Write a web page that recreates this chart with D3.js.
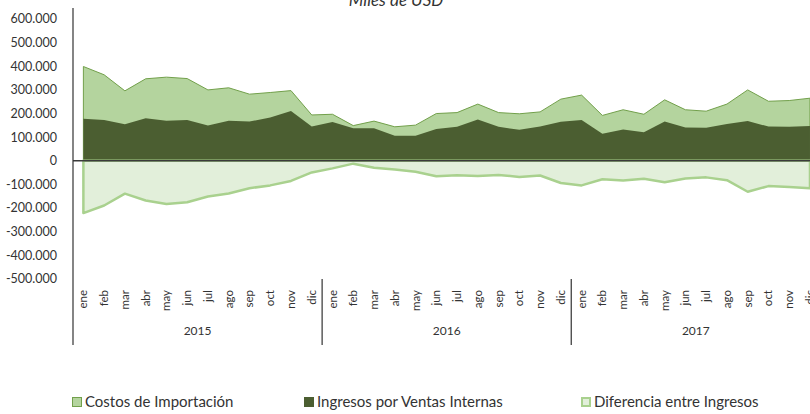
<!DOCTYPE html>
<html>
<head>
<meta charset="utf-8">
<script src="https://cdn.jsdelivr.net/npm/d3@7"></script>
<style>
  body { margin: 0; background: #fff; }
  text { font-family: Lato, "Liberation Sans", sans-serif; fill: #333; }
</style>
</head>
<body>
<svg id="chart" width="810" height="414"></svg>
<script>
// data (miles de USD)
const years = ["2015", "2016", "2017"];
const months = ["ene", "feb", "mar", "abr", "may", "jun", "jul", "ago", "sep", "oct", "nov", "dic"];
const costos = [
    399000, 364000, 296000, 347000, 354000, 348000, 300000, 309000, 282000, 289000, 297000, 194000,
    197000, 149000, 168000, 144000, 151000, 200000, 204000, 240000, 204000, 199000, 207000, 261000,
    278000, 192000, 216000, 197000, 258000, 216000, 210000, 240000, 300000, 252000, 255000, 265000
];
const ingresos = [
    178000, 173000, 155000, 180000, 170000, 173000, 149000, 170000, 166000, 183000, 211000, 145000,
    164000, 138000, 138000, 106000, 106000, 135000, 144000, 175000, 144000, 131000, 145000, 165000,
    173000, 114000, 132000, 121000, 166000, 141000, 140000, 156000, 168000, 145000, 144000, 147000
];
const diferencia = [
    -221000, -189000, -139000, -168000, -183000, -175000, -151000, -138000, -116000, -104000, -85000, -49000,
    -32000, -12000, -29000, -37000, -46000, -65000, -61000, -64000, -60000, -68000, -62000, -94000,
    -104000, -78000, -83000, -76000, -91000, -75000, -70000, -82000, -131000, -107000, -111000, -116000
];
const yTicks = [600000, 500000, 400000, 300000, 200000, 100000, 0, -100000, -200000, -300000, -400000, -500000];
const seriesNames = ["Costos de Importación", "Ingresos por Ventas Internas", "Diferencia entre Ingresos"];

const locale = d3.formatLocale({ decimal: ",", thousands: ".", grouping: [3], currency: ["", ""], minus: "-" });
const fmt = locale.format(",d");

const svg = d3.select("#chart");
const idx = d3.range(costos.length);

const x = d3.scaleBand().domain(idx).range([73, 73 + 36 * 20.76]).padding(0);
const cx = i => x(i) + x.bandwidth() / 2;
const y = d3.scaleLinear().domain([-500000, 600000]).range([279, 19]);

const plot = svg.append("g");
plot.append("clipPath").attr("id", "clip")
    .append("rect").attr("x", 73).attr("y", 0).attr("width", 737).attr("height", 414);
const g = plot.append("g").attr("clip-path", "url(#clip)");

// Costos de Importación
g.append("path")
    .datum(idx)
    .attr("fill", "#b4d49e")
    .attr("stroke", "#72a04b")
    .attr("stroke-width", 1)
    .attr("d", d3.area().x(cx).y0(y(0)).y1(i => y(costos[i])));

// Ingresos por Ventas Internas
g.append("path")
    .datum(idx)
    .attr("fill", "#4b5e31")
    .attr("d", d3.area().x(cx).y0(y(0)).y1(i => y(ingresos[i])));

// Diferencia entre Ingresos
g.append("path")
    .datum(idx)
    .attr("fill", "#e2efda")
    .attr("stroke", "#a9d18e")
    .attr("stroke-width", 2.5)
    .attr("stroke-linejoin", "round")
    .attr("d", d3.area().x(cx).y0(y(0)).y1(i => y(diferencia[i])));

// zero line
svg.append("line")
    .attr("x1", 73).attr("x2", 810)
    .attr("y1", y(0)).attr("y2", y(0))
    .attr("stroke", "#3a3a3a").attr("stroke-width", 1.5);

// y axis
svg.append("line")
    .attr("x1", 73).attr("x2", 73).attr("y1", 8).attr("y2", 345)
    .attr("stroke", "#333").attr("stroke-width", 1.2);

svg.append("g").selectAll("text")
    .data(yTicks)
    .join("text")
    .attr("x", 57)
    .attr("y", d => y(d))
    .attr("dy", "0.35em")
    .attr("text-anchor", "end")
    .attr("font-size", 12.5)
    .text(d => fmt(d));

// month labels
svg.append("g").selectAll("text")
    .data(idx)
    .join("text")
    .attr("transform", i => `translate(${cx(i)},290) rotate(-90)`)
    .attr("dy", "0.35em")
    .attr("text-anchor", "end")
    .attr("font-size", 11.5)
    .text(i => months[i % 12]);

// year separators and labels
svg.append("g").selectAll("line")
    .data([12, 24])
    .join("line")
    .attr("x1", i => x(i)).attr("x2", i => x(i))
    .attr("y1", 279).attr("y2", 345)
    .attr("stroke", "#333").attr("stroke-width", 1.2);

svg.append("g").selectAll("text")
    .data(years)
    .join("text")
    .attr("x", (d, k) => (x(k * 12) + x(k * 12 + 11) + x.bandwidth()) / 2)
    .attr("y", 335)
    .attr("text-anchor", "middle")
    .attr("font-size", 12)
    .text(d => d);

// title
svg.append("text")
    .attr("x", 396).attr("y", 6)
    .attr("text-anchor", "middle")
    .attr("font-size", 17)
    .attr("font-style", "italic")
    .text("Miles de USD");

// legend
const legendX = [72, 304, 581];
const legendFill = ["#b4d49e", "#4b5e31", "#e2efda"];
const legendStroke = ["#72a04b", "#4b5e31", "#a9d18e"];
const legend = svg.append("g").selectAll("g")
    .data(seriesNames)
    .join("g")
    .attr("transform", (d, k) => `translate(${legendX[k]},397)`);
legend.append("rect")
    .attr("x", (d, k) => k === 2 ? 1 : 0.5)
    .attr("y", (d, k) => k === 2 ? 1 : 0.5)
    .attr("width", (d, k) => k === 2 ? 8 : 9)
    .attr("height", (d, k) => k === 2 ? 8 : 9)
    .attr("fill", (d, k) => legendFill[k])
    .attr("stroke", (d, k) => legendStroke[k])
    .attr("stroke-width", (d, k) => k === 2 ? 2 : 1);
legend.append("text")
    .attr("x", 13).attr("y", 5)
    .attr("dy", "0.35em")
    .attr("font-size", 15)
    .text(d => d);
</script>
</body>
</html>
